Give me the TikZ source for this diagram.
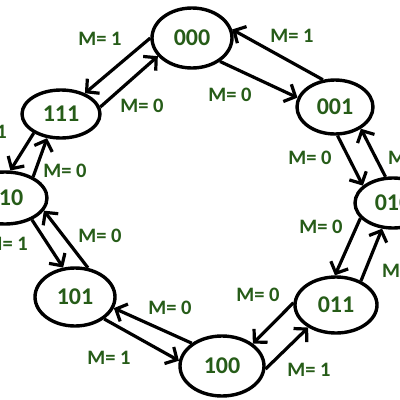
\documentclass[tikz,border=0pt]{standalone}
\usepackage{fontspec}
\setmainfont{Carlito}
\usetikzlibrary{arrows.meta,shapes.geometric}
\definecolor{txtgreen}{RGB}{38,92,24}
\begin{document}
\begin{tikzpicture}[x=1pt,y=-1pt,
  st/.style={draw, ellipse, line width=3.4pt, inner sep=0pt, text=txtgreen,
    font=\fontsize{24}{24}\selectfont\bfseries},
  lbl/.style={text=txtgreen, font=\fontsize{20.5}{20.5}\selectfont\bfseries, inner sep=0pt},
  tr/.style={line width=3.2pt, -{Straight Barb[length=9pt,width=19pt]}},
]
\useasboundingbox (0,0) rectangle (400,400);
\fill[white] (0,0) rectangle (400,400);
\clip (0,0) rectangle (400,400);

\node[st, minimum width=80pt, minimum height=60pt] (n000) at (192,38) {000};
\node[st, minimum width=76pt, minimum height=54pt] (n001) at (335,107) {001};
\node[st, minimum width=76pt, minimum height=50pt] (n010) at (393,203) {010};
\node[st, minimum width=82pt, minimum height=56pt] (n011) at (336,305) {011};
\node[st, minimum width=84pt, minimum height=60pt] (n100) at (222,366) {100};
\node[st, minimum width=80pt, minimum height=58pt] (n101) at (75,297) {101};
\node[st, minimum width=84pt, minimum height=52pt] (n110) at (5,198) {110};
\node[st, minimum width=78pt, minimum height=48pt] (n111) at (61,114) {111};

\draw[tr] (n000.180) -- (n111.41);
\draw[tr] (n111.10) -- (n000.208);
\draw[tr] (n001.114) -- (n000.12);
\draw[tr] (n000.320) -- (n001.166);
\draw[tr] (n001.275) -- (n010.150);
\draw[tr] (n010.106) -- (n001.320);
\draw[tr] (n010.205) -- (n011.92);
\draw[tr] (n011.44) -- (n010.247);
\draw[tr] (n011.177) -- (n100.36);
\draw[tr] (n100.356) -- (n011.219);
\draw[tr] (n100.143) -- (n101.344);
\draw[tr] (n101.323) -- (n100.173);
\draw[tr] (n110.321) -- (n101.112);
\draw[tr] (n101.66) -- (n110.342);
\draw[tr] (n111.215) -- (n110.79);
\draw[tr] (n110.37) -- (n111.240);

\node[lbl] (l1) at (100,39) {M= 1};
\node[lbl] (l2) at (142,106) {M= 0};
\node[lbl] (l3) at (292,36) {M= 1};
\node[lbl] (l4) at (230,95) {M= 0};
\node[lbl] (l5) at (310,158) {M= 0};
\node[lbl, anchor=west] (l6) at (388,158) {M= 1};
\node[lbl] (l7) at (321,227) {M= 0};
\node[lbl, anchor=west] (l8) at (382,271) {M= 1};
\node[lbl] (l9) at (258,295) {M= 0};
\node[lbl] (l10) at (309,370) {M= 1};
\node[lbl] (l11) at (170,308) {M= 0};
\node[lbl] (l12) at (109,358) {M= 1};
\node[lbl] (l13) at (100,236) {M= 0};
\node[lbl, anchor=east] (l14) at (28,244) {M= 1};
\node[lbl] (l15) at (65,171) {M= 0};
\node[lbl, anchor=east] (l16) at (7,132) {M= 1};
\end{tikzpicture}
\end{document}
